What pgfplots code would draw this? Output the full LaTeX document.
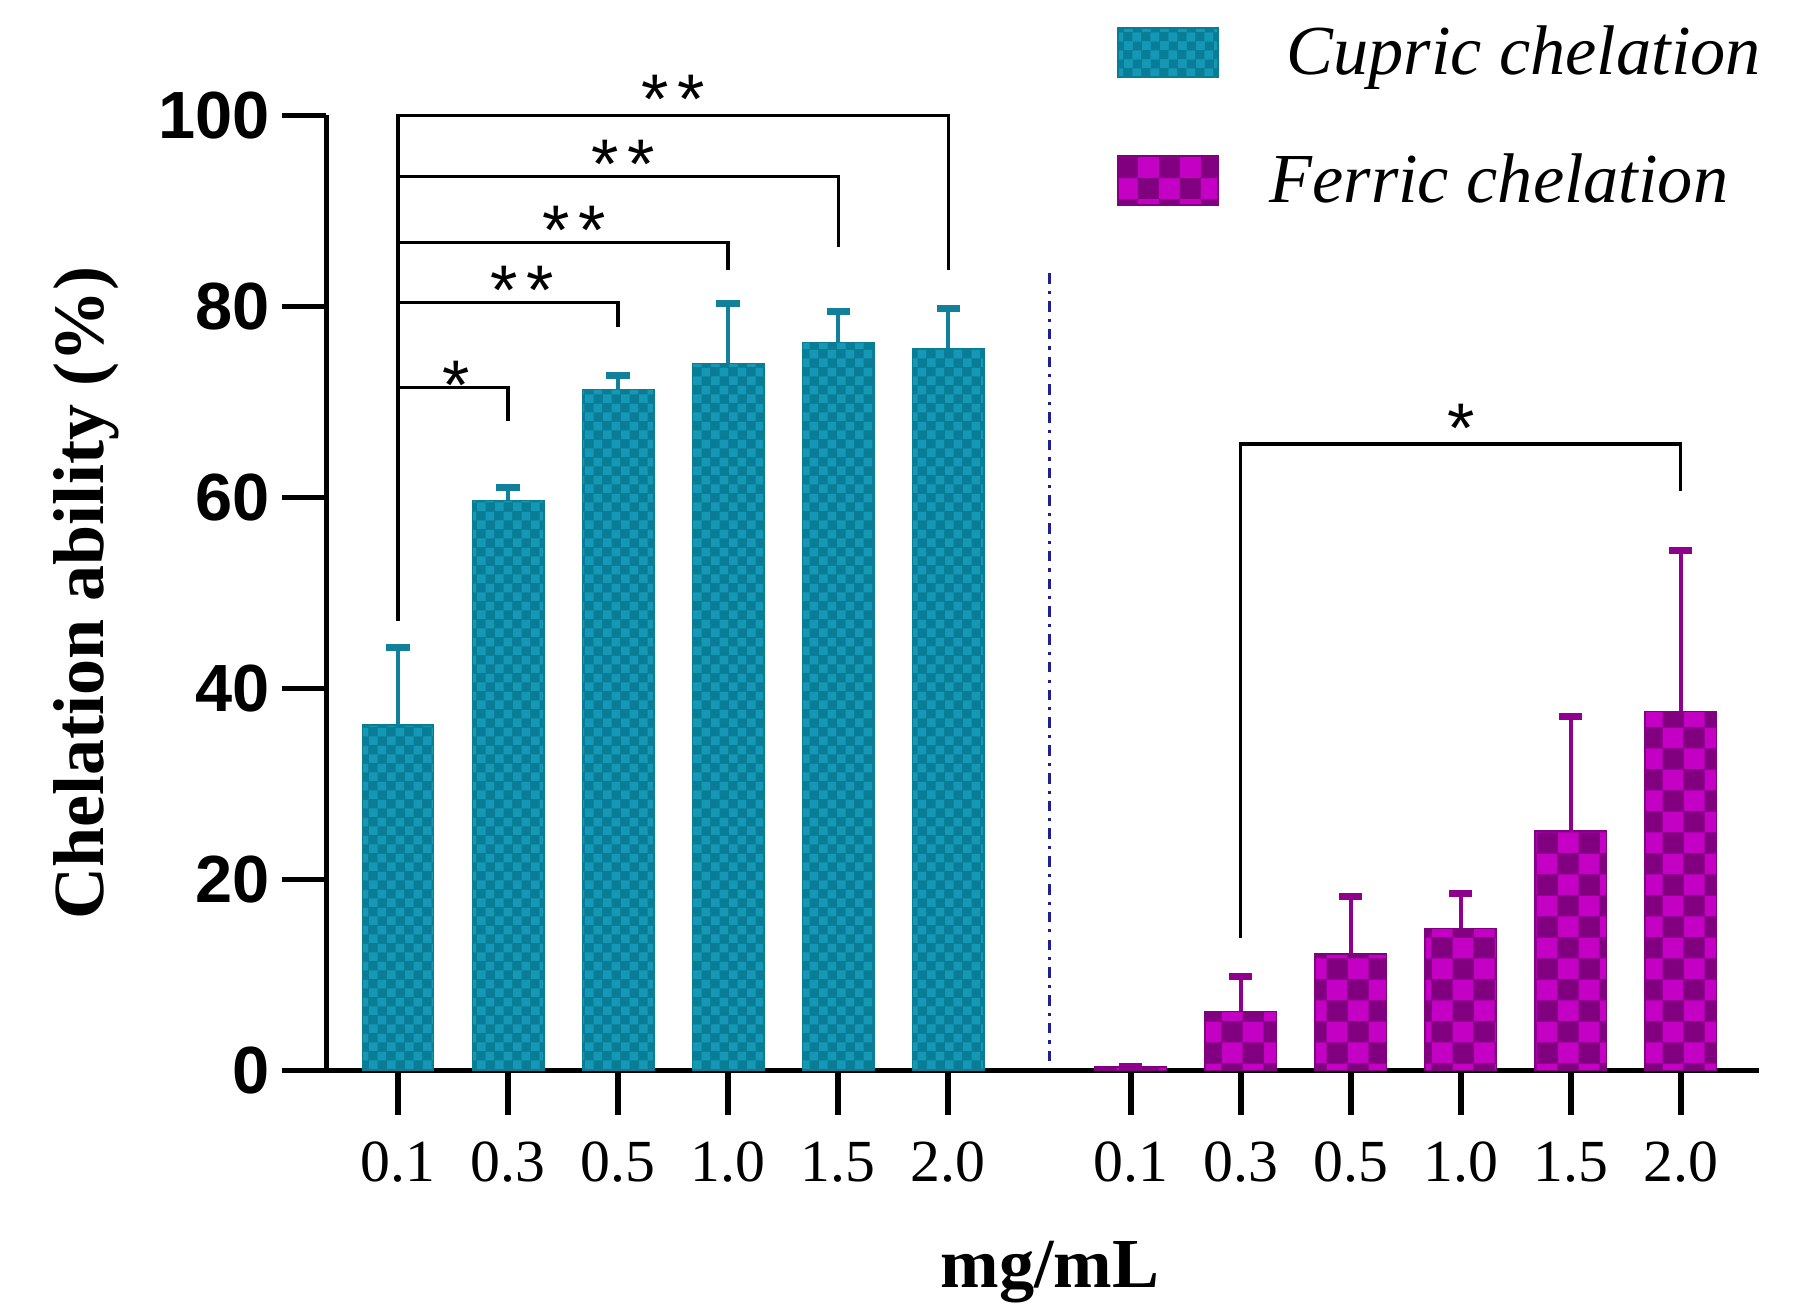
\documentclass[border=0pt]{standalone}
\usepackage{fontspec}
\setmainfont{Liberation Serif}
\newfontfamily\ticksans{Liberation Sans}
\usepackage{pgfplots}
\pgfplotsset{compat=1.18}
\usetikzlibrary{patterns}

\definecolor{tealdark}{RGB}{10,125,150}
\definecolor{teallight}{RGB}{20,152,182}
\definecolor{magdark}{RGB}{128,0,128}
\definecolor{maglight}{RGB}{196,0,196}
\definecolor{sepblue}{RGB}{30,30,150}

\pgfdeclarepatternformonly{finecheck}{\pgfpointorigin}{\pgfqpoint{5pt}{5pt}}{\pgfqpoint{5pt}{5pt}}{%
  \pgfpathrectangle{\pgfpointorigin}{\pgfqpoint{2.5pt}{2.5pt}}%
  \pgfpathrectangle{\pgfqpoint{2.5pt}{2.5pt}}{\pgfqpoint{2.5pt}{2.5pt}}%
  \pgfusepath{fill}}
\pgfdeclarepatternformonly{coarsecheck}{\pgfpointorigin}{\pgfqpoint{12pt}{12pt}}{\pgfqpoint{12pt}{12pt}}{%
  \pgfpathrectangle{\pgfpointorigin}{\pgfqpoint{6pt}{6pt}}%
  \pgfpathrectangle{\pgfqpoint{6pt}{6pt}}{\pgfqpoint{6pt}{6pt}}%
  \pgfusepath{fill}}

% x, mean, upper error
\pgfplotstableread{
x     y     e
0     36.2  8.1
1     59.7  1.3
2     71.3  1.5
3     74.0  6.3
4     76.2  3.3
5     75.6  4.2
}\cupric
\pgfplotstableread{
x      y     e
6.66   0.4   0
7.66   6.2   3.7
8.66   12.2  6.0
9.66   14.9  3.6
10.66  25.1  12.0
11.66  37.6  16.9
}\ferric

\tikzset{star/.style={font=\ticksans\fontsize{20}{22}\selectfont, anchor=base, inner sep=0pt}}

\begin{document}
\begin{tikzpicture}
\begin{axis}[
    scale only axis,
    width=14.33cm, height=9.555cm,
    xmin=-0.65, xmax=12.37,
    ymin=0, ymax=100,
    axis lines=left,
    axis line style={-, line width=1.6pt},
    tick style={line width=1.6pt, black},
    tick align=outside,
    major tick length=0.44cm,
    xtick={0,1,2,3,4,5,6.66,7.66,8.66,9.66,10.66,11.66},
    xticklabels={0.1,0.3,0.5,1.0,1.5,2.0,0.1,0.3,0.5,1.0,1.5,2.0},
    ytick={0,20,40,60,80,100},
    xticklabel style={font=\fontsize{17}{20}\selectfont, yshift=-0.15cm},
    yticklabel style={font=\ticksans\bfseries\fontsize{19}{22}\selectfont},
    /pgf/number format/assume math mode=true,
    xlabel={\textbf{mg/mL}},
    xlabel style={font=\fontsize{20}{24}\selectfont, at={(axis description cs:0.505,-0.211)}, anchor=center},
    ylabel={\textbf{Chelation ability (\%)}},
    ylabel style={font=\fontsize{20.5}{24}\selectfont, at={(axis description cs:-0.1675,0.5)}, anchor=center},
    clip=false,
    legend style={draw=none, fill=none, at={(axis description cs:0.5515,1.095)}, anchor=north west,
      font=\itshape\fontsize{20}{24}\selectfont, row sep=0.74cm, inner sep=0pt,
      nodes={inner sep=0pt}},
    legend cell align=left,
]
\addplot[ybar, bar shift=0pt, bar width=0.716cm, draw=tealdark, fill=tealdark,
    postaction={pattern=finecheck, pattern color=teallight},
    legend image code/.code={%
      \fill[tealdark, postaction={pattern=finecheck, pattern color=teallight}]
        (0cm,-0.245cm) rectangle (1.0cm,0.245cm);
      \path (1.68cm,0cm);},
    error bars/.cd, y dir=plus, y explicit,
    error bar style={line width=1.2pt, color=teallight!85!black},
    error mark options={rotate=90, line width=2pt, mark size=3.3pt, color=teallight!85!black}]
    table[x=x, y=y, y error=e] {\cupric};
\addlegendentry{Cupric chelation}
\addplot[ybar, bar shift=0pt, bar width=0.716cm, draw=magdark, fill=magdark,
    postaction={pattern=coarsecheck, pattern color=maglight},
    legend image code/.code={%
      \fill[magdark, postaction={pattern=coarsecheck, pattern color=maglight}]
        (0cm,-0.245cm) rectangle (1.0cm,0.245cm);},
    error bars/.cd, y dir=plus, y explicit,
    error bar style={line width=1.2pt, color=magdark!80!maglight},
    error mark options={rotate=90, line width=2pt, mark size=3.3pt, color=magdark!80!maglight}]
    table[x=x, y=y, y error=e] {\ferric};
\addlegendentry{\hspace*{-0.17cm}Ferric chelation}

% separator between the two groups
\draw[sepblue, line width=0.9pt, dash dot] (axis cs:5.92,1) -- (axis cs:5.92,83.7);

% significance brackets, cupric
\draw[line width=0.9pt] (axis cs:0,47.1) -- (axis cs:0,100) -- (axis cs:5,100) -- (axis cs:5,83.8);
\draw[line width=0.9pt] (axis cs:0,93.6) -- (axis cs:4,93.6) -- (axis cs:4,86.2);
\draw[line width=0.9pt] (axis cs:0,86.7) -- (axis cs:3,86.7) -- (axis cs:3,83.8);
\draw[line width=0.9pt] (axis cs:0,80.4) -- (axis cs:2,80.4) -- (axis cs:2,77.8);
\draw[line width=0.9pt] (axis cs:0,71.5) -- (axis cs:1,71.5) -- (axis cs:1,68.0);
\node[star, yshift=-0.08cm] at (axis cs:2.5,100) {*\hspace{0.12em}*};
\node[star, yshift=-0.12cm] at (axis cs:2.05,93.6) {*\hspace{0.12em}*};
\node[star, yshift=-0.12cm] at (axis cs:1.6,86.7) {*\hspace{0.12em}*};
\node[star, yshift=-0.12cm] at (axis cs:1.13,80.4) {*\hspace{0.12em}*};
\node[star, yshift=-0.22cm] at (axis cs:0.53,71.5) {*};

% significance bracket, ferric
\draw[line width=0.9pt] (axis cs:7.66,13.9) -- (axis cs:7.66,65.6) -- (axis cs:11.66,65.6) -- (axis cs:11.66,60.7);
\node[star, yshift=-0.08cm] at (axis cs:9.66,65.6) {*};
\end{axis}
\pgfresetboundingbox
\path (-3.266,-2.447) rectangle (14.74,10.71);
\end{tikzpicture}
\end{document}
